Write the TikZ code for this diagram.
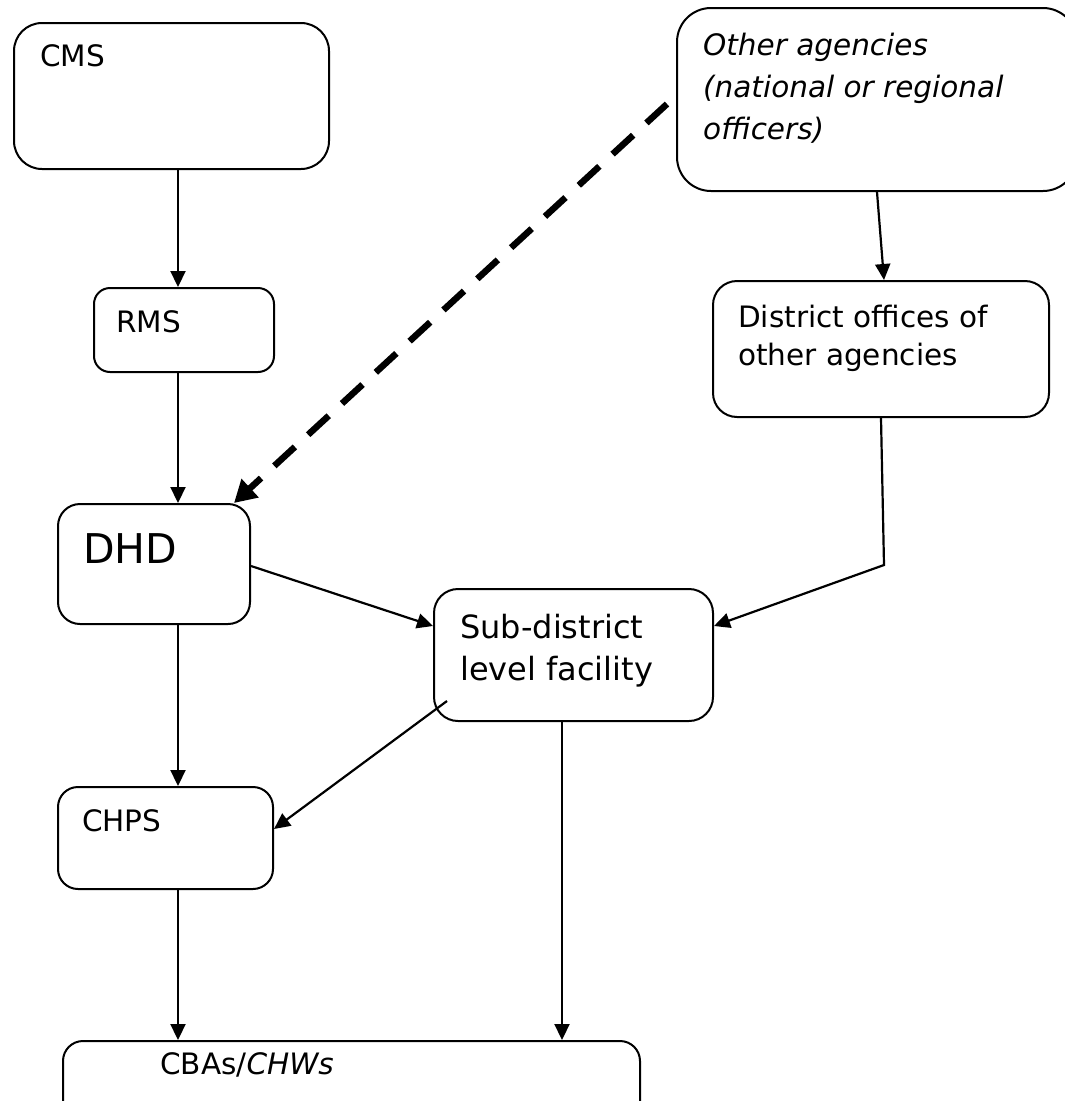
\documentclass[tikz,border=0pt]{standalone}
\usepackage{fontspec}
\setmainfont{DejaVu Sans}
\usetikzlibrary{arrows.meta}
\begin{document}
\begin{tikzpicture}[x=1pt,y=-1pt,
  box/.style={draw,line width=2pt,rounded corners=20pt,anchor=north west,inner sep=0pt},
  lbl/.style={anchor=base west,inner sep=0pt,font=\fontsize{29.5}{38}\selectfont},
  biglbl/.style={anchor=base west,inner sep=0pt,font=\fontsize{41}{50}\selectfont},
  sublbl/.style={anchor=base west,inner sep=0pt,font=\fontsize{32}{40}\selectfont},
  arr/.style={line width=2.2pt,-{Triangle[length=16pt,width=15pt]}},
  dasharr/.style={line width=6.5pt,dash pattern=on 28pt off 18pt,-{Triangle[length=22pt,width=24pt]}}]
\clip (0,0) rectangle (1065,1101);
\fill[white] (0,0) rectangle (1065,1101);
% boxes
\node[box,rounded corners=28pt,minimum width=315pt,minimum height=146pt] (cms) at (13,22) {};
\node[box,rounded corners=16pt,minimum width=180pt,minimum height=84pt] (rms) at (93,287) {};
\node[box,rounded corners=22pt,minimum width=192pt,minimum height=120pt] (dhd) at (57,503) {};
\node[box,rounded corners=20pt,minimum width=215pt,minimum height=102pt] (chps) at (57,786) {};
\node[box,rounded corners=24pt,minimum width=336pt,minimum height=136pt] (dist) at (712,280) {};
\node[box,rounded corners=34pt,minimum width=400pt,minimum height=183pt] (other) at (676,7) {};
\node[box,rounded corners=24pt,minimum width=279pt,minimum height=132pt] (sub) at (433,588) {};
\node[box,rounded corners=20pt,minimum width=577pt,minimum height=90pt] (cba) at (62,1040) {};
% texts
\node[lbl] (cmst) at (40,66) {CMS};
\node[lbl] (rmst) at (116,332) {RMS};
\node[biglbl] (dhdt) at (83,563) {DHD};
\node[lbl] (chpst) at (82,831) {CHPS};
\node[lbl] (distta) at (738,327) {District offices of};
\node[lbl] (disttb) at (738,365) {other agencies};
\node[sublbl] (subta) at (460,638) {Sub-district};
\node[sublbl] (subtb) at (460,680) {level facility};
\node[lbl,font=\fontsize{29.5}{38}\selectfont\itshape] (otherta) at (703,55) {Other agencies};
\node[lbl,font=\fontsize{29.5}{38}\selectfont\itshape] (othertb) at (703,97) {(national or regional};
\node[lbl,font=\fontsize{29.5}{38}\selectfont\itshape] (othertc) at (703,139) {officers)};
\node[lbl] (cbat) at (160,1074) {CBAs/\textit{CHWs}};
% connectors
\coordinate (bend) at (884,565);
\draw[arr] ([xshift=6.5pt]cms.south) -- ([xshift=-6pt]rms.north);
\draw[arr] ([xshift=-6pt]rms.south) -- ([xshift=24pt]dhd.north);
\draw[arr] ([xshift=24pt]dhd.south) -- ([xshift=12.5pt]chps.north);
\draw[arr] ([xshift=12.5pt]chps.south) -- ([xshift=-173.5pt]cba.north);
\draw[arr] ([xshift=-11.5pt]sub.south) -- ([xshift=210.5pt]cba.north);
\draw[arr] (other.south) -- ([xshift=3pt]dist.north);
\draw[arr] (dist.south) -- (bend) -- ([yshift=29pt]sub.east);
\draw[arr] ([yshift=-2pt]dhd.east) -- ([yshift=29pt]sub.west);
\draw[arr] ([xshift=14pt,yshift=-46pt]sub.west) -- ([yshift=9pt]chps.east);
\draw[dasharr] ([xshift=-9pt,yshift=-4.5pt]other.west) -- ([xshift=-17pt]dhd.north east);
\end{tikzpicture}
\end{document}
